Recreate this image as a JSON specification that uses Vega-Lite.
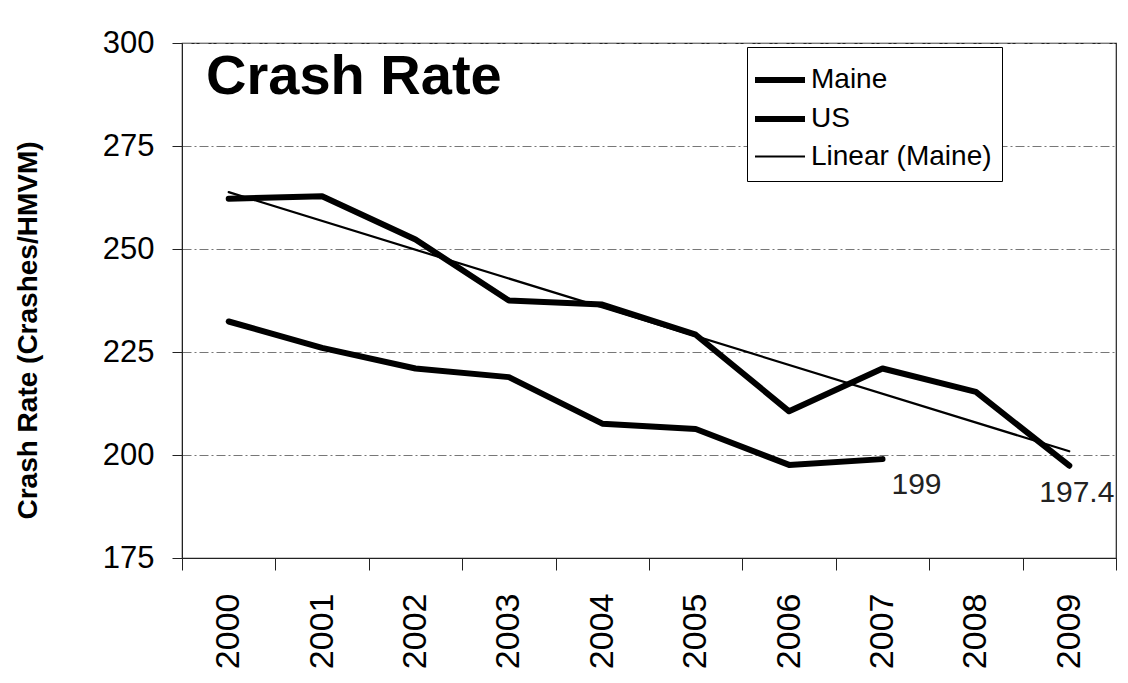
{
  "$schema": "https://vega.github.io/schema/vega-lite/v6.json",
  "autosize": {"type": "none"},
  "padding": {"left": 182, "top": 43, "right": 12, "bottom": 125},
  "width": 934,
  "height": 515,
  "background": "white",
  "title": {
    "text": "Crash Rate",
    "anchor": "start",
    "orient": "top",
    "frame": "group",
    "font": "Liberation Sans",
    "fontSize": 56,
    "fontWeight": "bold",
    "color": "black",
    "baseline": "top",
    "offset": -79,
    "dx": 24
  },
  "config": {
    "font": "Liberation Sans",
    "view": {"stroke": "#222", "strokeWidth": 1.2},
    "legend": {
      "orient": "none",
      "legendX": 565,
      "legendY": 4,
      "labelFont": "Liberation Sans",
      "labelFontSize": 28,
      "labelColor": "black",
      "labelOffset": 8,
      "symbolType": "M-1.25,0H1.25",
      "symbolSize": 1600,
      "symbolFillColor": "transparent",
      "rowPadding": 2,
      "padding": 10,
      "strokeColor": "black",
      "fillColor": "white",
      "labelLimit": 400
    }
  },
  "datasets": {
    "rates": [
      {"year": "2000", "series": "Maine", "value": 262.2},
      {"year": "2001", "series": "Maine", "value": 262.8},
      {"year": "2002", "series": "Maine", "value": 252.3},
      {"year": "2003", "series": "Maine", "value": 237.5},
      {"year": "2004", "series": "Maine", "value": 236.5},
      {"year": "2005", "series": "Maine", "value": 229.2},
      {"year": "2006", "series": "Maine", "value": 210.6},
      {"year": "2007", "series": "Maine", "value": 221.0},
      {"year": "2008", "series": "Maine", "value": 215.3},
      {"year": "2009", "series": "Maine", "value": 197.4},
      {"year": "2000", "series": "US", "value": 232.4},
      {"year": "2001", "series": "US", "value": 226.0},
      {"year": "2002", "series": "US", "value": 221.0},
      {"year": "2003", "series": "US", "value": 218.9},
      {"year": "2004", "series": "US", "value": 207.6},
      {"year": "2005", "series": "US", "value": 206.3},
      {"year": "2006", "series": "US", "value": 197.6},
      {"year": "2007", "series": "US", "value": 199.0},
      {"year": "2000", "series": "Linear (Maine)", "value": 263.8},
      {"year": "2009", "series": "Linear (Maine)", "value": 200.9}
    ],
    "labels": [
      {"year": "2007", "series": "US", "value": 199.0, "label": "199"},
      {"year": "2009", "series": "Maine", "value": 197.4, "label": "197.4"}
    ]
  },
  "encoding": {
    "x": {
      "field": "year",
      "type": "ordinal",
      "scale": {
        "domain": ["2000", "2001", "2002", "2003", "2004", "2005", "2006", "2007", "2008", "2009"],
        "paddingInner": 0,
        "paddingOuter": 0
      },
      "axis": {
        "title": null,
        "labelAngle": 270,
        "labelFont": "Liberation Sans",
        "labelFontSize": 34,
        "labelColor": "black",
        "labelPadding": 23,
        "tickBand": "extent",
        "tickSize": 12,
        "tickColor": "#222",
        "domainColor": "#222",
        "grid": false
      }
    },
    "y": {
      "field": "value",
      "type": "quantitative",
      "scale": {"domain": [175, 300], "nice": false, "zero": false},
      "axis": {
        "title": "Crash Rate (Crashes/HMVM)",
        "titleFont": "Liberation Sans",
        "titleFontSize": 28,
        "titleFontWeight": "bold",
        "titleColor": "black",
        "titleY": 287,
        "titlePadding": 60,
        "values": [175, 200, 225, 250, 275, 300],
        "labelFont": "Liberation Sans",
        "labelFontSize": 31,
        "labelColor": "black",
        "labelPadding": 18,
        "tickSize": 10,
        "tickColor": "#222",
        "domainColor": "#222",
        "grid": true,
        "gridColor": "#777",
        "gridDash": [9, 3, 2, 3],
        "gridWidth": 1
      }
    }
  },
  "layer": [
    {
      "data": {"name": "rates"},
      "mark": {"type": "line", "strokeJoin": "round", "strokeCap": "round"},
      "encoding": {
        "color": {
          "field": "series",
          "type": "nominal",
          "scale": {"domain": ["Maine", "US", "Linear (Maine)"], "range": ["black", "black", "black"]},
          "legend": {"title": null}
        },
        "strokeWidth": {
          "field": "series",
          "type": "nominal",
          "scale": {"type": "ordinal", "domain": ["Maine", "US", "Linear (Maine)"], "range": [6, 6, 2.2]},
          "legend": {"title": null}
        }
      }
    },
    {
      "data": {"name": "labels"},
      "transform": [{"filter": "datum.label == '199'"}],
      "mark": {"type": "text", "align": "left", "baseline": "alphabetic", "dx": 9, "dy": 35, "fontSize": 30, "font": "Liberation Sans", "color": "#222"},
      "encoding": {"text": {"field": "label"}}
    },
    {
      "data": {"name": "labels"},
      "transform": [{"filter": "datum.label == '197.4'"}],
      "mark": {"type": "text", "align": "left", "baseline": "alphabetic", "dx": -30, "dy": 36, "fontSize": 30, "font": "Liberation Sans", "color": "#222"},
      "encoding": {"text": {"field": "label"}}
    }
  ]
}
